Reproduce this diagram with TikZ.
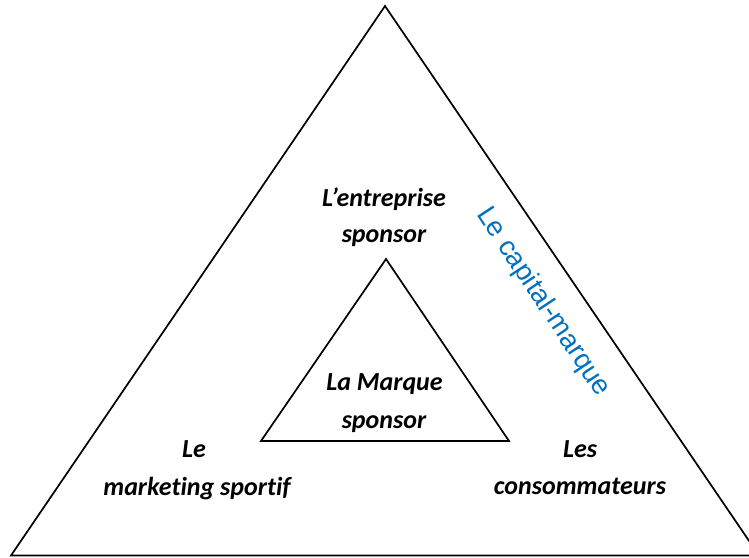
\documentclass[tikz,border=0pt]{standalone}
\usepackage{fontspec}
\setmainfont{Carlito}[Ligatures={NoCommon}]
\newfontfamily\arialfont{Liberation Sans}[Ligatures={NoCommon}]
\definecolor{wordblue}{RGB}{0,112,192}
\begin{document}
\begin{tikzpicture}[x=1pt,y=-1pt,
  edge/.style={line width=1.7pt, line join=miter},
  lab/.style={font=\fontsize{26}{30}\selectfont\bfseries\itshape, anchor=base, inner sep=0pt},
  bluelab/.style={font=\arialfont\fontsize{27.5}{30}\selectfont, text=wordblue, rotate=-56.5, anchor=base west, inner sep=0pt}]
\useasboundingbox (0,0) rectangle (749,557);
\clip (0,0) rectangle (749,557);
\coordinate (A) at (385,6);
\coordinate (B) at (11,555.5);
\coordinate (C) at (759,555.5);
\draw[edge] (A) -- (B) -- (C) -- cycle;
\coordinate (a) at (386,259);
\coordinate (b) at (261,441);
\coordinate (c) at (509,441);
\draw[edge] (a) -- (b) -- (c) -- cycle;
\node[lab] (ent1) at (384,206) {L’entreprise};
\node[lab] (ent2) at (384,242) {sponsor};
\node[lab] (mar1) at (384.5,390) {La Marque};
\node[lab] (mar2) at (384,428) {sponsor};
\node[lab] (mk1) at (194,457) {Le};
\node[lab] (mk2) at (197,495) {marketing sportif};
\node[lab] (co1) at (580,457) {Les};
\node[lab] (co2) at (580,494) {consommateurs};
\node[bluelab] (cap) at (476,214) {Le capital-marque};
\end{tikzpicture}
\end{document}
